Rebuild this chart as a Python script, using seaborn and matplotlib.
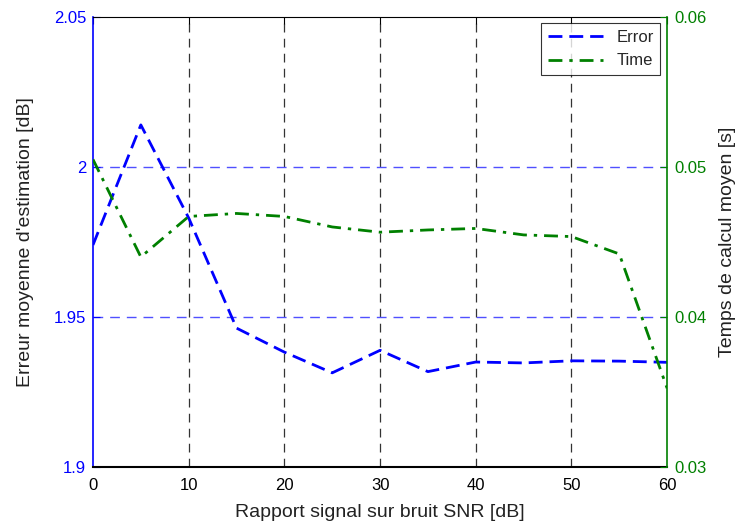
import matplotlib
matplotlib.use("Agg")
import matplotlib.pyplot as plt
import seaborn as sns
import pandas as pd

snr = [0, 5, 10, 15, 20, 25, 30, 35, 40, 45, 50, 55, 60]
erreur = [1.974, 2.014, 1.983, 1.9463, 1.9383, 1.9314, 1.9389, 1.9318, 1.935, 1.9347, 1.9354, 1.9353, 1.9349]
temps = [0.0505, 0.0440, 0.0467, 0.0469, 0.0467, 0.0460, 0.04565, 0.0458, 0.0459, 0.04547, 0.04536, 0.0442, 0.03525]

df = pd.DataFrame({"snr": snr, "erreur": erreur, "temps": temps})

sns.set_style("white")
plt.rcParams['font.family'] = ['Liberation Sans', 'DejaVu Sans']

fig = plt.figure(figsize=(7.38, 5.26), dpi=100)
ax = fig.add_axes([0.126, 0.112, 0.778, 0.856])
ax2 = ax.twinx()

sns.lineplot(data=df, x="snr", y="erreur", ax=ax, color="#0000ff", lw=2, label="Error")
ax.lines[0].set_dashes([5, 2.5])
sns.lineplot(data=df, x="snr", y="temps", ax=ax2, color="#008000", lw=2, label="Time")
ax2.lines[0].set_dashes([5, 2.5, 1.2, 2.5])

ax.set_xlim(0, 60)
ax.set_ylim(1.9, 2.05)
ax2.set_ylim(0.03, 0.06)
ax.set_xticks([0, 10, 20, 30, 40, 50, 60])
ax.set_yticks([1.9, 1.95, 2.0, 2.05])
ax.set_yticklabels(["1.9", "1.95", "2", "2.05"])
ax2.set_yticks([0.03, 0.04, 0.05, 0.06])
ax2.set_yticklabels(["0.03", "0.04", "0.05", "0.06"])

# grille style matlab
for xv in [10, 20, 30, 40, 50]:
    ax.axvline(xv, color="#333333", ls=(0, (7, 5)), lw=0.9, zorder=0)
for yv in [1.95, 2.0]:
    ax.axhline(yv, color="#5050ff", ls=(0, (7, 5)), lw=1.0, zorder=0)

ax.tick_params(axis="x", direction="in", colors="black", labelsize=12, length=5, top=True, pad=8)
ax.tick_params(axis="y", direction="in", colors="#0000ff", labelsize=12, length=5, pad=5)
ax2.tick_params(axis="y", direction="in", colors="#008000", labelsize=12, length=5, pad=5)

for s in ["top", "bottom"]:
    ax.spines[s].set_color("black")
    ax2.spines[s].set_visible(False)
ax.spines["bottom"].set_linewidth(1.5)
ax.spines["left"].set_color("#0000ff")
ax.spines["left"].set_linewidth(1.2)
ax2.spines["right"].set_color("#008000")
ax2.spines["right"].set_linewidth(1.2)
ax2.spines["left"].set_visible(False)
ax.spines["right"].set_visible(False)

ax.set_xlabel("Rapport signal sur bruit SNR [dB]", fontsize=14, color="#222222", labelpad=8)
ax.set_ylabel("Erreur moyenne d'estimation [dB]", fontsize=14, color="#222222", labelpad=14)
ax2.set_ylabel("Temps de calcul moyen [s]", fontsize=14, color="#222222", labelpad=9)

h1, l1 = ax.get_legend_handles_labels()
h2, l2 = ax2.get_legend_handles_labels()
ax.get_legend().remove()
ax2.get_legend().remove()
leg = ax2.legend(h1 + h2, l1 + l2, loc="upper right", fontsize=12, frameon=True,
                 fancybox=False, edgecolor="black", borderaxespad=0.4, handlelength=3.3)
leg.get_frame().set_linewidth(0.8)

fig.savefig("out.png", dpi=100)
